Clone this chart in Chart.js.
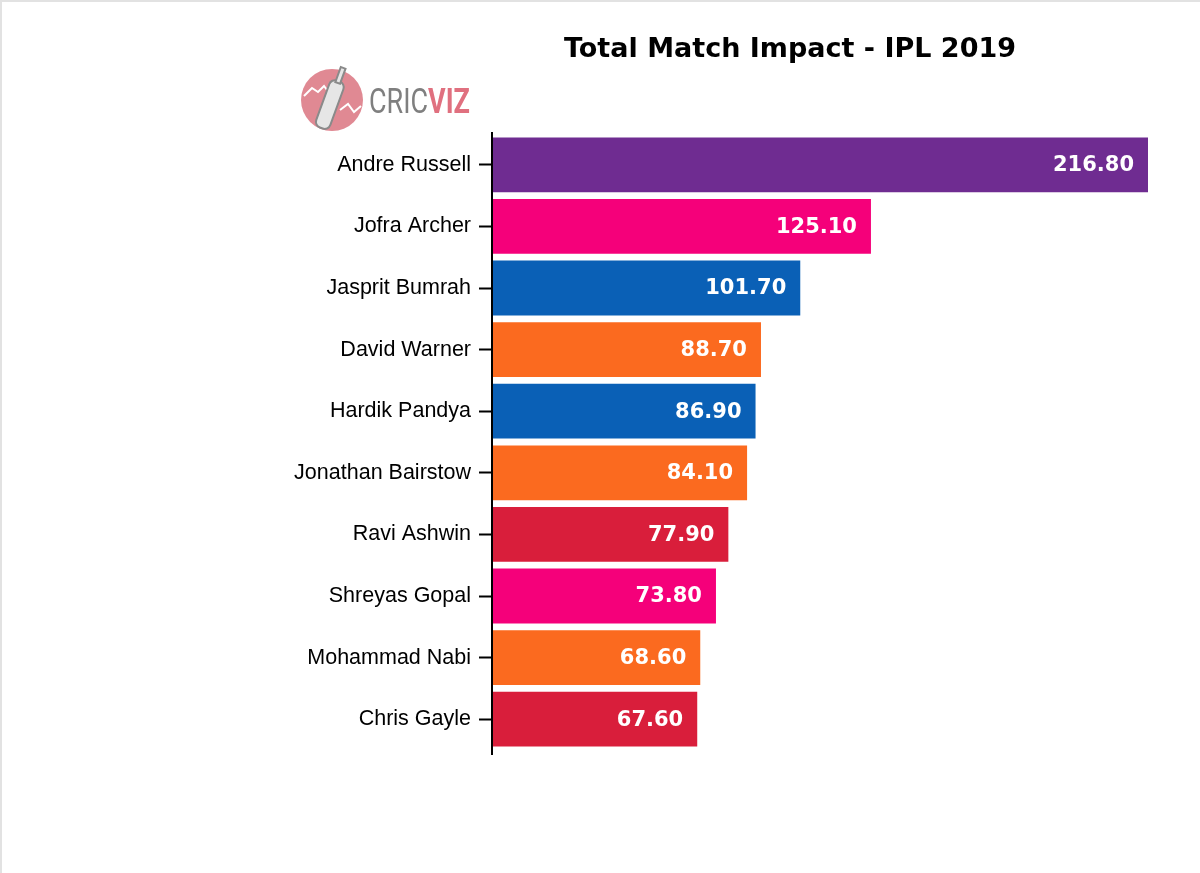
<!DOCTYPE html>
<html lang="en">
<head>
  <meta charset="UTF-8" />
  <title>Total Match Impact - IPL 2019</title>
  <script src="https://cdn.jsdelivr.net/npm/chart.js@4.4.1/dist/chart.umd.min.js"></script>
  <style>
    html, body { margin: 0; padding: 0; background: #fff; }
    #wrap {
      position: relative;
      width: 1200px;
      height: 873px;
      box-sizing: border-box;
      border-top: 2px solid #e2e2e2;
      border-left: 2px solid #e2e2e2;
      overflow: hidden;
    }
    #chartBox { position: absolute; left: -2px; top: -2px; width: 1200px; height: 873px; }
    #logo { position: absolute; left: 298px; top: 62px; }
  </style>
</head>
<body>
  <div id="wrap">
    <div id="chartBox"><canvas id="impactChart"></canvas></div>
    <svg id="logo" width="190" height="72" viewBox="0 0 190 72">
      <circle cx="32" cy="36" r="31" fill="#e08993" />
      <polyline points="4,32 12,24 18,28 24,22 30,30" fill="none" stroke="#fff" stroke-width="2" />
      <polyline points="40,46 48,40 54,48 61,42" fill="none" stroke="#fff" stroke-width="2" />
      <g transform="rotate(20 32 36)">
        <rect x="24" y="16" width="15" height="50" rx="6" fill="#e6e6e6" stroke="#8a8a8a" stroke-width="2" />
        <rect x="29" y="2" width="5" height="16" fill="#e6e6e6" stroke="#8a8a8a" stroke-width="2" />
      </g>
      <text x="69" y="49" font-family="Roboto, 'Liberation Sans', sans-serif" font-size="35"
            textLength="101" lengthAdjust="spacingAndGlyphs" fill="#7f7f7f">CRIC<tspan fill="#e0707f" font-weight="bold">VIZ</tspan></text>
    </svg>
  </div>

  <script>
    // data
    const players = [
      "Andre Russell", "Jofra Archer", "Jasprit Bumrah", "David Warner",
      "Hardik Pandya", "Jonathan Bairstow", "Ravi Ashwin", "Shreyas Gopal",
      "Mohammad Nabi", "Chris Gayle"
    ];
    const impact = [216.8, 125.1, 101.7, 88.7, 86.9, 84.1, 77.9, 73.8, 68.6, 67.6];
    const barColors = [
      "#6f2c91", "#f5007a", "#0a60b6", "#fb6a1f", "#0a60b6",
      "#fb6a1f", "#d91e3b", "#f5007a", "#fb6a1f", "#d91e3b"
    ];
    const chartTitle = "Total Match Impact - IPL 2019";

    // title, axis line and value labels
    const decorations = {
      id: "decorations",
      afterDatasetsDraw(chart) {
        const ctx = chart.ctx;
        const area = chart.chartArea;
        ctx.save();
        // left axis line (runs a little past the bars)
        ctx.strokeStyle = "#000";
        ctx.lineWidth = 2;
        ctx.beginPath();
        ctx.moveTo(area.left - 1, area.top - 2);
        ctx.lineTo(area.left - 1, area.bottom + 5);
        ctx.stroke();

        // value labels inside the bars
        ctx.fillStyle = "#fff";
        ctx.font = "bold 21px 'DejaVu Sans', Verdana, sans-serif";
        ctx.textAlign = "right";
        ctx.textBaseline = "middle";
        chart.getDatasetMeta(0).data.forEach((bar, i) => {
          ctx.fillText(impact[i].toFixed(2), bar.x - 14, bar.y + 1);
        });

        // title
        ctx.fillStyle = "#000";
        ctx.font = "bold 27px 'DejaVu Sans', Verdana, sans-serif";
        ctx.textAlign = "center";
        ctx.textBaseline = "alphabetic";
        ctx.fillText(chartTitle, 790, 57);
        ctx.restore();
      }
    };

    new Chart(document.getElementById("impactChart"), {
      type: "bar",
      data: {
        labels: players,
        datasets: [{
          data: impact,
          backgroundColor: barColors,
          borderWidth: 0,
          categoryPercentage: 1,
          barPercentage: 0.89
        }]
      },
      options: {
        indexAxis: "y",
        responsive: true,
        maintainAspectRatio: false,
        animation: false,
        layout: { padding: { top: 134, bottom: 123, right: 52, left: 0 } },
        plugins: {
          legend: { display: false },
          tooltip: { enabled: false },
          title: { display: false }
        },
        scales: {
          x: {
            display: false,
            min: 0,
            max: 216.8
          },
          y: {
            afterFit: (scale) => { scale.width = 493; },
            border: { display: false },
            grid: {
              offset: false,
              drawOnChartArea: false,
              drawTicks: true,
              tickLength: 14,
              tickWidth: 2,
              tickColor: "#000"
            },
            ticks: {
              color: "#000",
              padding: 8,
              font: { family: "'Liberation Sans', Arial, sans-serif", size: 21.5 }
            }
          }
        }
      },
      plugins: [decorations]
    });
  </script>
</body>
</html>
